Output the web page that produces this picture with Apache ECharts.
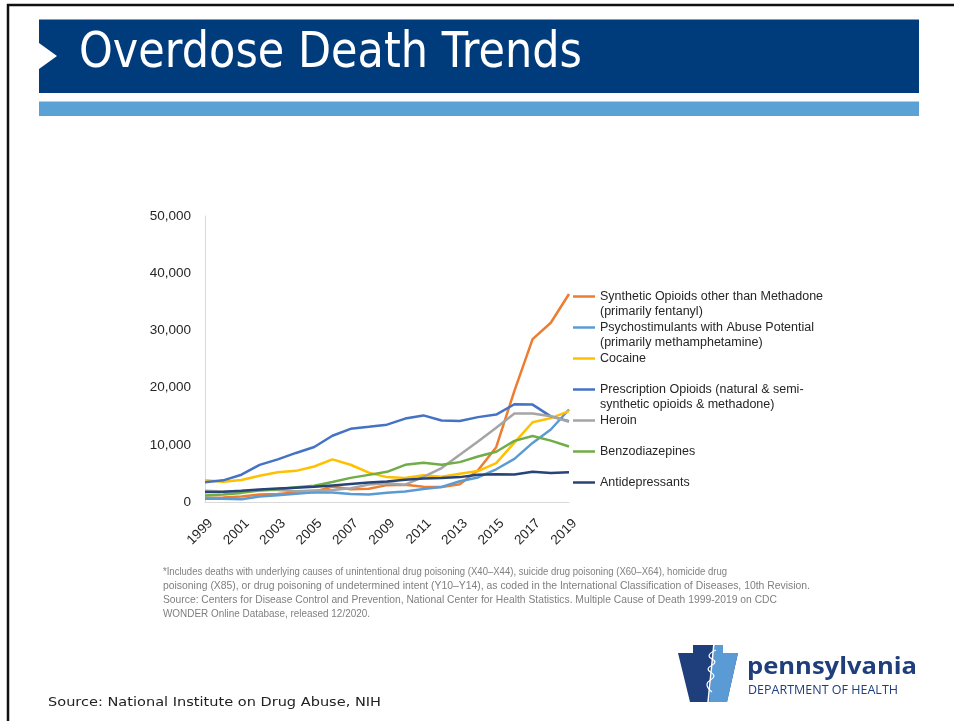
<!DOCTYPE html>
<html><head><meta charset="utf-8">
<script src="https://cdn.jsdelivr.net/npm/echarts@6/dist/echarts.min.js"></script>
<style>html,body{margin:0;padding:0;background:#fff}#c{width:954px;height:721px}</style>
</head><body><div id="c"></div>
<script>
// ---------- data ----------
const years = ["1999","2000","2001","2002","2003","2004","2005","2006","2007","2008","2009","2010","2011","2012","2013","2014","2015","2016","2017","2018","2019"];
const synthetic = [730, 782, 957, 1295, 1400, 1664, 1742, 2707, 2213, 2306, 2946, 3007, 2666, 2628, 3105, 5544, 9580, 19413, 28466, 31335, 36359];
const psychostimulants = [547, 578, 500, 950, 1200, 1450, 1700, 1650, 1400, 1300, 1600, 1850, 2270, 2640, 3630, 4300, 5720, 7540, 10330, 12680, 16170];
const cocaine = [3822, 3544, 3833, 4599, 5199, 5443, 6208, 7448, 6512, 5129, 4350, 4183, 4681, 4404, 4944, 5415, 6784, 10375, 13942, 14666, 15883];
const prescription = [3442, 3785, 4770, 6483, 7456, 8577, 9612, 11589, 12796, 13149, 13523, 14583, 15140, 14240, 14145, 14838, 15281, 17087, 17029, 14975, 14139];
const heroin = [1960, 1842, 1779, 2089, 2080, 1878, 2009, 2088, 2399, 3041, 3278, 3036, 4397, 5925, 8257, 10574, 12989, 15469, 15482, 14996, 14019];
const benzodiazepines = [1135, 1298, 1594, 2006, 2248, 2585, 2843, 3491, 4220, 4740, 5270, 6497, 6872, 6524, 6973, 7945, 8791, 10684, 11537, 10724, 9711];
const antidepressants = [1749, 1800, 1950, 2200, 2350, 2500, 2650, 2900, 3150, 3400, 3600, 3890, 4100, 4200, 4350, 4770, 4840, 4800, 5270, 5060, 5180];

const seriesLabels = [
  ["Synthetic Opioids other than Methadone", "(primarily fentanyl)"],
  ["Psychostimulants with Abuse Potential", "(primarily methamphetamine)"],
  ["Cocaine"],
  ["Prescription Opioids (natural & semi-", "synthetic opioids & methadone)"],
  ["Heroin"],
  ["Benzodiazepines"],
  ["Antidepressants"]
];
const seriesValues = [synthetic, psychostimulants, cocaine, prescription, heroin, benzodiazepines, antidepressants];
const seriesColors = ["#ED7D31", "#5B9BD5", "#FFC000", "#4472C4", "#A5A5A5", "#70AD47", "#264478"];

const titleText = "Overdose Death Trends";
const footnoteLines = [
  "*Includes deaths with underlying causes of unintentional drug poisoning (X40\u2013X44), suicide drug poisoning (X60\u2013X64), homicide drug",
  "poisoning (X85), or drug poisoning of undetermined intent (Y10\u2013Y14), as coded in the International Classification of Diseases, 10th Revision.",
  "Source: Centers for Disease Control and Prevention, National Center for Health Statistics. Multiple Cause of Death 1999-2019 on CDC",
  "WONDER Online Database, released 12/2020."
];
const footnoteWidths = [564, 647, 614, 207];
const sourceText = "Source: National Institute on Drug Abuse, NIH";
const logoName = "pennsylvania";
const logoSub = "DEPARTMENT OF HEALTH";

// ---------- helpers ----------
const mctx = document.createElement('canvas').getContext('2d');
function fit(text, font, target) { mctx.font = font; return target / mctx.measureText(text).width; }

const chart = echarts.init(document.getElementById('c'), null, {renderer: 'canvas'});

const fullNames = seriesLabels.map(l => l.join(' '));
const legendLeft = 573, legendTop = 289, legendStep = 31;

const graphics = [];
// frame
graphics.push({type: 'rect', z: 1, shape: {x: 8, y: 5, width: 1000, height: 800}, style: {fill: 'none', stroke: '#111', lineWidth: 2.5}});
// title band
graphics.push({type: 'rect', shape: {x: 39, y: 19.5, width: 880, height: 73.5}, style: {fill: '#003C7C'}});
graphics.push({type: 'rect', shape: {x: 39, y: 101.5, width: 880, height: 14.5}, style: {fill: '#5AA2D6'}});
graphics.push({type: 'polygon', shape: {points: [[39, 43], [57, 56], [39, 69]]}, style: {fill: '#ffffff'}});
const titleFont = '49px "DejaVu Sans"';
graphics.push({type: 'text', x: 79, y: 54, scaleX: fit(titleText, titleFont, 503),
  style: {text: titleText, font: titleFont, fill: '#ffffff', verticalAlign: 'middle', align: 'left'}});
// footnote
const fnFont = '10.8px "Liberation Sans"';
footnoteLines.forEach((t, i) => {
  graphics.push({type: 'text', x: 163, y: 572 + i * 14, scaleX: fit(t, fnFont, footnoteWidths[i]),
    style: {text: t, font: fnFont, fill: '#7F7F7F', verticalAlign: 'middle', align: 'left'}});
});
// source
const srcFont = '12.5px "DejaVu Sans"';
graphics.push({type: 'text', x: 48, y: 703, scaleX: fit(sourceText, srcFont, 333),
  style: {text: sourceText, font: srcFont, fill: '#222', verticalAlign: 'middle', align: 'left'}});
// logo keystone
graphics.push({type: 'polygon', shape: {points: [[693, 645], [723, 645], [723, 653], [738, 653], [727, 702], [690, 702], [678, 653], [693, 653]]}, style: {fill: '#1F3E7C'}});
graphics.push({type: 'polygon', shape: {points: [[714, 645], [723, 645], [723, 653], [738, 653], [727, 702], [709, 702]]}, style: {fill: '#5B9BD5'}});
graphics.push({type: 'polyline', shape: {points: [[714, 643], [708, 702]]}, style: {stroke: '#fff', lineWidth: 1.5}});
graphics.push({type: 'polyline', shape: {points: [[716, 650], [709, 656], [715, 662], [708, 669], [714, 676], [707, 684], [712, 692]], smooth: 0.5}, style: {stroke: '#fff', lineWidth: 1.2, fill: 'none'}});
const lnFont = 'bold 24px "Open Sans"';
graphics.push({type: 'text', x: 747, y: 667, scaleX: fit(logoName, lnFont, 170),
  style: {text: logoName, font: lnFont, fill: '#1F3E7C', verticalAlign: 'middle', align: 'left'}});
const lsFont = '12px "Open Sans"';
graphics.push({type: 'text', x: 748, y: 691, scaleX: fit(logoSub, lsFont, 150),
  style: {text: logoSub, font: lsFont, fill: '#1F3E7C', verticalAlign: 'middle', align: 'left'}});
// legend second lines
seriesLabels.forEach((l, i) => {
  if (l.length > 1) {
    graphics.push({type: 'text', x: legendLeft + 27, y: legendTop + i * legendStep + 7.5 + 15,
      style: {text: l[1], font: '12.5px "Liberation Sans"', fill: '#262626', verticalAlign: 'middle', align: 'left'}});
  }
});

const option = {
  backgroundColor: '#ffffff',
  animation: false,
  grid: {left: 205, top: 216, width: 364, height: 286, containLabel: false},
  xAxis: {
    type: 'category', data: years, boundaryGap: false,
    axisLine: {show: true, lineStyle: {color: '#D9D9D9', width: 1}},
    axisTick: {show: false},
    axisLabel: {interval: 1, rotate: 45, margin: 25, padding: [0, -8, 0, 0], color: '#262626', fontFamily: 'Liberation Sans', fontSize: 13.5}
  },
  yAxis: {
    type: 'value', min: 0, max: 50000, interval: 10000,
    axisLine: {show: true, lineStyle: {color: '#D9D9D9', width: 1}},
    axisTick: {show: false},
    splitLine: {show: false},
    axisLabel: {margin: 14, color: '#262626', fontFamily: 'Liberation Sans', fontSize: 13.5,
      formatter: v => v.toLocaleString('en-US')}
  },
  legend: {
    orient: 'vertical', left: legendLeft, top: legendTop, padding: 0,
    itemWidth: 22, itemHeight: 2.5, itemGap: legendStep - 15, icon: 'rect',
    data: fullNames,
    formatter: name => seriesLabels[fullNames.indexOf(name)][0],
    textStyle: {fontFamily: 'Liberation Sans', fontSize: 12.5, color: '#262626', lineHeight: 15}
  },
  series: seriesValues.map((vals, i) => ({
    name: fullNames[i], type: 'line', data: vals, showSymbol: false, symbol: 'none',
    color: seriesColors[i], lineStyle: {width: 2.5, color: seriesColors[i]}, z: 2
  })),
  graphic: graphics
};
chart.setOption(option);
</script></body></html>
